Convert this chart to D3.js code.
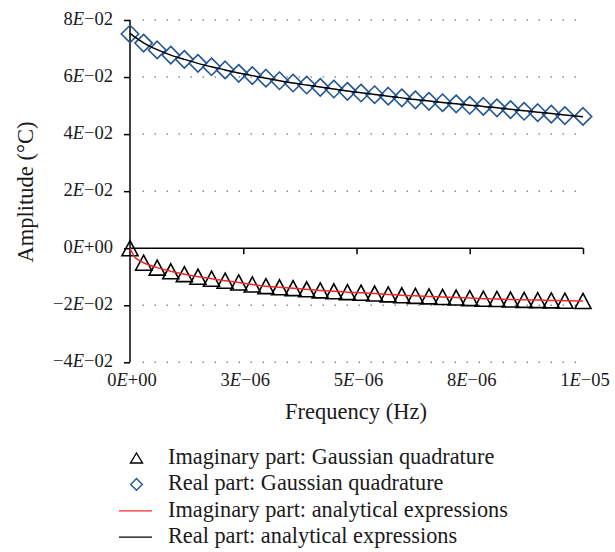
<!DOCTYPE html>
<html>
<head>
<meta charset="utf-8">
<script src="https://cdn.jsdelivr.net/npm/d3@7"></script>
<style>
  body { margin: 0; background: #fff; }
</style>
</head>
<body>
<div id="chart"></div>
<script>
// DATA
////////////////////////////
// frequencies of the gaussian quadrature points (Hz)
var freq = [0, 3e-7, 6e-7, 9e-7, 1.2e-6, 1.5e-6, 1.8e-6, 2.1e-6, 2.4e-6, 2.7e-6,
            3.0e-6, 3.3e-6, 3.6e-6, 3.9e-6, 4.2e-6, 4.5e-6, 4.8e-6, 5.1e-6, 5.4e-6, 5.7e-6,
            6.0e-6, 6.3e-6, 6.6e-6, 6.9e-6, 7.2e-6, 7.5e-6, 7.8e-6, 8.1e-6, 8.4e-6, 8.7e-6,
            9.0e-6, 9.3e-6, 9.6e-6, 1.0e-5];

var realGauss = [0.0751, 0.0719, 0.0695, 0.0677, 0.0662, 0.0648, 0.0636, 0.0625, 0.0613, 0.0605,
                 0.0596, 0.0587, 0.0579, 0.0572, 0.0564, 0.0558, 0.0550, 0.0544, 0.0538, 0.0533,
                 0.0527, 0.0520, 0.0515, 0.0510, 0.0506, 0.0501, 0.0497, 0.0492, 0.0486, 0.0480,
                 0.0475, 0.0470, 0.0465, 0.0462];

var imagGauss = [0, -0.0051, -0.0068, -0.0081, -0.0091, -0.0100, -0.0107, -0.0114, -0.0120, -0.0127,
                 -0.0133, -0.0137, -0.0140, -0.0144, -0.0148, -0.0151, -0.0154, -0.0156, -0.0159, -0.0162,
                 -0.0165, -0.0167, -0.0169, -0.0171, -0.0173, -0.0175, -0.0177, -0.0178, -0.0180, -0.0181,
                 -0.0182, -0.0183, -0.0184, -0.0185];

// analytical curves (a couple of extra points near 0)
var freqA = [0, 1e-7, 2e-7, 3e-7, 6e-7, 9e-7, 1.2e-6, 1.5e-6, 1.8e-6, 2.1e-6, 2.4e-6, 2.7e-6,
             3.0e-6, 3.3e-6, 3.6e-6, 3.9e-6, 4.2e-6, 4.5e-6, 4.8e-6, 5.1e-6, 5.4e-6, 5.7e-6,
             6.0e-6, 6.3e-6, 6.6e-6, 6.9e-6, 7.2e-6, 7.5e-6, 7.8e-6, 8.1e-6, 8.4e-6, 8.7e-6,
             9.0e-6, 9.3e-6, 9.6e-6, 1.0e-5];

var realA = [0.0753, 0.0741, 0.0730, 0.0720, 0.0696, 0.0677, 0.0662, 0.0648, 0.0636, 0.0625, 0.0614, 0.0605,
             0.0596, 0.0587, 0.0579, 0.0572, 0.0565, 0.0558, 0.0551, 0.0545, 0.0539, 0.0533,
             0.0527, 0.0521, 0.0516, 0.0511, 0.0506, 0.0501, 0.0497, 0.0492, 0.0487, 0.0482,
             0.0477, 0.0472, 0.0467, 0.0461];

var imagA = [0, -0.0030, -0.0043, -0.0051, -0.0068, -0.0081, -0.0091, -0.0100, -0.0107, -0.0114, -0.0120, -0.0127,
             -0.0133, -0.0137, -0.0140, -0.0144, -0.0148, -0.0151, -0.0154, -0.0156, -0.0159, -0.0162,
             -0.0165, -0.0167, -0.0169, -0.0171, -0.0173, -0.0175, -0.0177, -0.0178, -0.0180, -0.0181,
             -0.0182, -0.0183, -0.0184, -0.0185];

var xTicks = [0, 2.5e-6, 5e-6, 7.5e-6, 1e-5];
var xTickLabels = ["0E+00", "3E\u221206", "5E\u221206", "8E\u221206", "1E\u221205"];
var yTicks = [-0.04, -0.02, 0, 0.02, 0.04, 0.06, 0.08];
var yTickLabels = ["\u22124E\u221202", "\u22122E\u221202", "0E+00", "2E\u221202", "4E\u221202", "6E\u221202", "8E\u221202"];

var legendLabels = ["Imaginary part: Gaussian quadrature", "Real part: Gaussian quadrature",
                    "Imaginary part: analytical expressions", "Real part: analytical expressions"];

// SETUP
////////////////////////////
var width = 615, height = 552;
var blue = "#245690", red = "#f02828";
var serif = "'Liberation Serif', 'Times New Roman', Times, 'DejaVu Serif', serif";

var svg = d3.select("#chart").append("svg")
    .attr("width", width)
    .attr("height", height)
    .attr("font-family", serif)
    .style("font-family", serif);

var x = d3.scaleLinear().domain([0, 1e-5]).range([130, 583]);
var y = d3.scaleLinear().domain([-0.04, 0.08]).range([362.3, 20]);

// marker shapes (relative to the point)
var triPath = "M0,-7.5L8,7.5L-8,7.5Z";
var diaPath = "M0,-8.7L8.7,0L0,8.7L-8.7,0Z";

// writes "3E-06" with an italic E
function sciLabel(sel, str) {
  var i = str.indexOf("E");
  sel.append("tspan").text(str.slice(0, i));
  sel.append("tspan").style("font-style", "italic").text("E");
  sel.append("tspan").text(str.slice(i + 1));
}

// GRID (dotted)
svg.append("g").selectAll("line")
  .data(yTicks.filter(function(d) { return d !== 0; }))
  .enter().append("line")
    .attr("x1", 142.5).attr("x2", 578)
    .attr("y1", function(d) { return y(d); })
    .attr("y2", function(d) { return y(d); })
    .attr("stroke", "#8c8c8c")
    .attr("stroke-width", 1.5)
    .attr("stroke-dasharray", "1.5,10.5");

// Y AXIS
var yAxis = d3.axisLeft(y).tickValues(yTicks).tickSize(6).tickFormat("");
var gy = svg.append("g").attr("transform", "translate(130,0)").call(yAxis);
gy.select(".domain").attr("stroke", "#000").attr("stroke-width", 1.5).attr("d", "M0," + y(-0.04) + "V" + y(0.08));
gy.selectAll(".tick line").attr("stroke", "#000").attr("stroke-width", 1.5);

svg.append("g").selectAll("text")
  .data(yTicks)
  .enter().append("text")
    .attr("x", 113)
    .attr("y", function(d) { return y(d) + 5; })
    .attr("text-anchor", "end")
    .attr("fill", "#1a1a1a")
    .style("font-family", serif)
    .style("font-size", "18.5px")
    .each(function(d, i) { sciLabel(d3.select(this), yTickLabels[i]); });

// X AXIS at zero, ticks pointing down
var xAxis = d3.axisBottom(x).tickValues(xTicks.slice(1)).tickSize(6).tickFormat("");
var gx = svg.append("g").attr("transform", "translate(0," + y(0) + ")").call(xAxis);
gx.select(".domain").attr("stroke", "#000").attr("stroke-width", 1.5).attr("d", "M" + x(0) + ",0H" + x(1e-5));
gx.selectAll(".tick line").attr("stroke", "#000").attr("stroke-width", 1.5);

// x labels sit below the plot
svg.append("g").selectAll("text")
  .data(xTicks)
  .enter().append("text")
    .attr("x", function(d) { return x(d) + 2; })
    .attr("y", 386)
    .attr("text-anchor", "middle")
    .attr("fill", "#1a1a1a")
    .style("font-family", serif)
    .style("font-size", "18.5px")
    .each(function(d, i) { sciLabel(d3.select(this), xTickLabels[i]); });

// titles
svg.append("text")
  .attr("x", 356).attr("y", 419)
  .attr("text-anchor", "middle")
  .attr("fill", "#1a1a1a")
  .style("font-family", serif)
  .style("font-size", "22.5px")
  .text("Frequency (Hz)");

svg.append("text")
  .attr("transform", "translate(33,192) rotate(-90)")
  .attr("text-anchor", "middle")
  .attr("fill", "#1a1a1a")
  .style("font-family", serif)
  .style("font-size", "22.5px")
  .text("Amplitude (\u00B0C)");

// MARKERS
var pts = freq.map(function(f, i) { return { f: f, re: realGauss[i], im: imagGauss[i] }; });

svg.append("g").selectAll("path")
  .data(pts)
  .enter().append("path")
    .attr("d", triPath)
    .attr("transform", function(d) { return "translate(" + x(d.f) + "," + y(d.im) + ")"; })
    .attr("fill", "none")
    .attr("stroke", "#000")
    .attr("stroke-width", 1.6);

svg.append("g").selectAll("path")
  .data(pts)
  .enter().append("path")
    .attr("d", diaPath)
    .attr("transform", function(d) { return "translate(" + x(d.f) + "," + y(d.re) + ")"; })
    .attr("fill", "none")
    .attr("stroke", blue)
    .attr("stroke-width", 1.6);

// ANALYTICAL LINES
var ptsA = freqA.map(function(f, i) { return { f: f, re: realA[i], im: imagA[i] }; });

var lineIm = d3.line().curve(d3.curveMonotoneX)
    .x(function(d) { return x(d.f); }).y(function(d) { return y(d.im); });
var lineRe = d3.line().curve(d3.curveMonotoneX)
    .x(function(d) { return x(d.f); }).y(function(d) { return y(d.re); });

svg.append("path").datum(ptsA)
  .attr("d", lineIm).attr("fill", "none").attr("stroke", red).attr("stroke-width", 1.5);
svg.append("path").datum(ptsA)
  .attr("d", lineRe).attr("fill", "none").attr("stroke", "#000").attr("stroke-width", 1.5);

// LEGEND
var legend = svg.append("g").selectAll("g")
  .data(legendLabels)
  .enter().append("g")
    .attr("transform", function(d, i) { return "translate(0," + (464 + i * 26.4) + ")"; });

legend.append("text")
  .attr("x", 168).attr("y", 0)
  .attr("fill", "#1a1a1a")
  .style("font-family", serif)
  .style("font-size", "22.3px")
  .text(function(d) { return d; });

legend.each(function(d, i) {
  var g = d3.select(this);
  if (i === 0) {
    g.append("path").attr("d", "M0,-5L6,5L-6,5Z")
      .attr("transform", "translate(136.5,-6)")
      .attr("fill", "none").attr("stroke", "#000").attr("stroke-width", 1.4);
  } else if (i === 1) {
    g.append("path").attr("d", "M0,-5.8L5.8,0L0,5.8L-5.8,0Z")
      .attr("transform", "translate(136.5,-6)")
      .attr("fill", "none").attr("stroke", blue).attr("stroke-width", 1.4);
  } else {
    g.append("line").attr("x1", 119).attr("x2", 152).attr("y1", -6).attr("y2", -6)
      .attr("stroke", i === 2 ? red : "#000").attr("stroke-width", 1.3);
  }
});
</script>
</body>
</html>
